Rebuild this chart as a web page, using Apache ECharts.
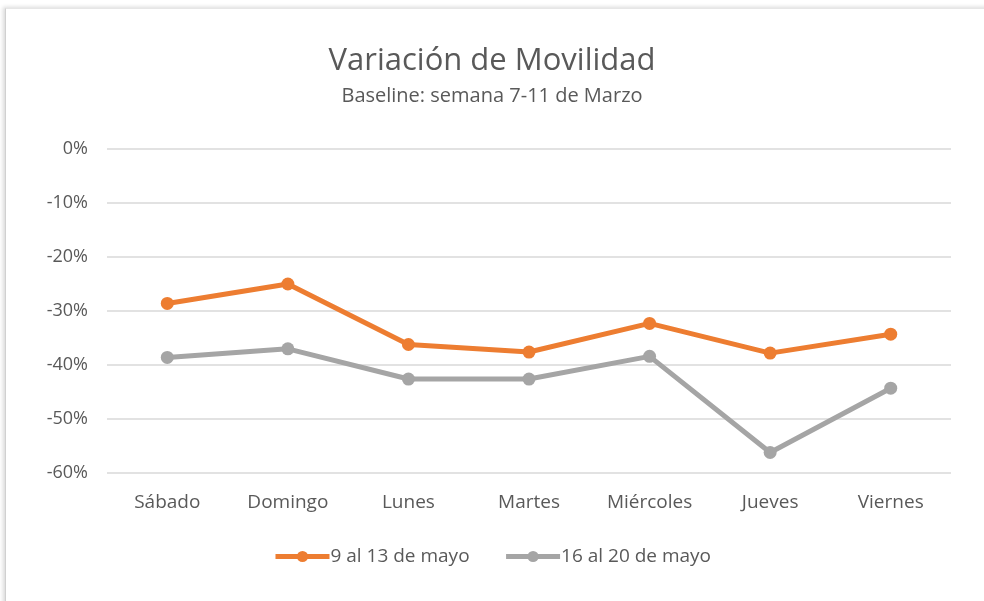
<!DOCTYPE html>
<html><head><meta charset="utf-8">
<script src="https://cdn.jsdelivr.net/npm/echarts@6/dist/echarts.min.js"></script>
<style>
html,body{margin:0;padding:0;background:#fff;width:984px;height:601px;overflow:hidden;}
#frame{position:absolute;left:5px;top:8px;width:990px;height:600px;background:#fff;border-left:1px solid #d0d0d0;border-top:1px solid #e6e6e6;box-shadow:-2px -1px 4px rgba(0,0,0,0.15);}
#c{position:absolute;left:0;top:0;width:984px;height:601px;}
</style></head>
<body>
<div id="frame"></div>
<div id="c"></div>
<script>
const categories = ["Sábado","Domingo","Lunes","Martes","Miércoles","Jueves","Viernes"];
const serie1Name = "9 al 13 de mayo";
const serie2Name = "16 al 20 de mayo";
const serie1 = [-28.6, -25.0, -36.2, -37.6, -32.3, -37.8, -34.3];
const serie2 = [-38.6, -37.0, -42.6, -42.6, -38.4, -56.2, -44.3];
const yTicks = [0, -10, -20, -30, -40, -50, -60];

const font = "'Open Sans', 'Noto Sans', sans-serif";
const chart = echarts.init(document.getElementById('c'), null, {renderer:'canvas'});
chart.setOption({
  backgroundColor: 'transparent',
  animation: false,
  textStyle: {fontFamily: font},
  title: {
    text: 'Variación de Movilidad',
    subtext: 'Baseline: semana 7-11 de Marzo',
    left: 'center', top: 41,
    itemGap: 9,
    textStyle: {fontFamily: font, fontSize: 31, fontWeight: 'normal', color: '#595959'},
    subtextStyle: {fontFamily: font, fontSize: 20, color: '#595959'}
  },
  legend: {
    bottom: 30, left: 'center',
    itemWidth: 54, itemHeight: 14, itemGap: 34,
    lineStyle: {width: 5},
    textStyle: {fontFamily: font, fontSize: 19, color: '#595959', padding:[0,0,0,-4]},
    data: [serie1Name, serie2Name]
  },
  grid: {left: 107, right: 33, top: 149, bottom: 128},
  xAxis: {
    type: 'category', data: categories, boundaryGap: true,
    axisLine: {show: false}, axisTick: {show: false},
    axisLabel: {fontFamily: font, fontSize: 19, color: '#595959', margin: 20}
  },
  yAxis: {
    type: 'value', min: Math.min(...yTicks), max: Math.max(...yTicks), interval: 10,
    axisLine: {show: false}, axisTick: {show: false},
    splitLine: {lineStyle: {color: '#d9d9d9', width: 1.5}},
    axisLabel: {fontFamily: font, fontSize: 18, color: '#595959', margin: 19, formatter: v => v + '%'}
  },
  series: [
    {name: serie1Name, type: 'line', data: serie1, symbol: 'circle', symbolSize: 13,
     lineStyle: {width: 5, color: '#ED7D31'}, itemStyle: {color: '#ED7D31'}},
    {name: serie2Name, type: 'line', data: serie2, symbol: 'circle', symbolSize: 13,
     lineStyle: {width: 5, color: '#A5A5A5'}, itemStyle: {color: '#A5A5A5'}}
  ]
});
</script>
</body></html>
